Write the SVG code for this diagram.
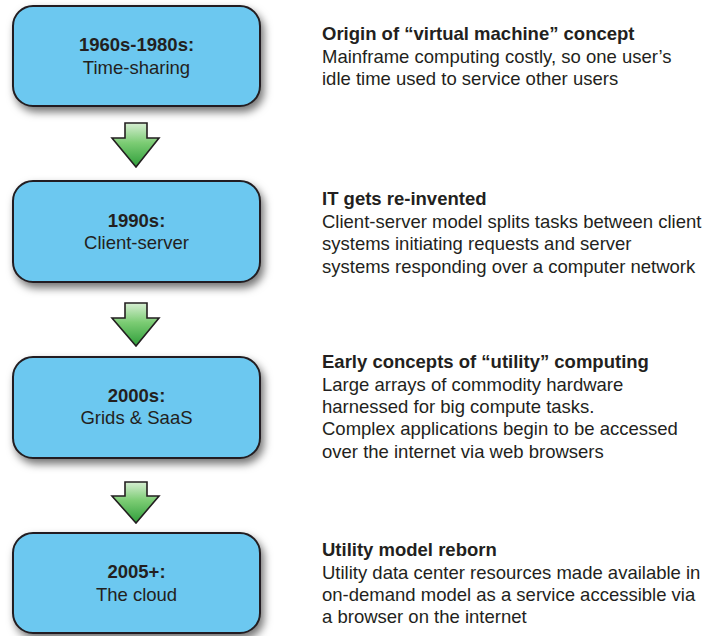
<svg xmlns="http://www.w3.org/2000/svg" width="708" height="636" viewBox="0 0 708 636">
<style>
.box{fill:#6cc8f0;stroke:#231f20;stroke-width:2;filter:url(#sh)}
.bt{font-family:"Liberation Sans",Arial,Helvetica,sans-serif;font-size:18.5px;fill:#231f20;text-anchor:middle}
.b{font-weight:bold}
.dt{font-family:"Liberation Sans",Arial,Helvetica,sans-serif;font-size:18.5px;fill:#231f20}
.arr{fill:url(#g);stroke:#231f20;stroke-width:1.6;stroke-linejoin:miter}
</style>
<defs>
<filter id="sh" x="-10%" y="-20%" width="125%" height="150%">
<feDropShadow dx="3" dy="5" stdDeviation="4" flood-color="#000" flood-opacity="0.55"/>
</filter>
<linearGradient id="g" x1="0" y1="0" x2="0" y2="1">
<stop offset="0" stop-color="#d6eed2"/>
<stop offset="0.45" stop-color="#7ccc74"/>
<stop offset="1" stop-color="#2f9e3a"/>
</linearGradient>
</defs>
<rect width="708" height="636" fill="#fff"/>
<g id="node1">
<rect class="box" x="13" y="6" width="247" height="100" rx="20"/>
<text class="bt b" x="136.5" y="51">1960s-1980s:</text>
<text class="bt" x="136.5" y="74">Time-sharing</text>
<text class="dt b" x="322" y="40">Origin of “virtual machine” concept</text>
<text class="dt" x="322" y="62.5">Mainframe computing costly, so one user’s</text>
<text class="dt" x="322" y="85">idle time used to service other users</text>
</g>
<g id="node2">
<rect class="box" x="13" y="181" width="247" height="101" rx="20"/>
<text class="bt b" x="136.5" y="227">1990s:</text>
<text class="bt" x="136.5" y="249">Client-server</text>
<text class="dt b" x="322" y="205">IT gets re-invented</text>
<text class="dt" x="322" y="227.5">Client-server model splits tasks between client</text>
<text class="dt" x="322" y="250">systems initiating requests and server</text>
<text class="dt" x="322" y="272.5">systems responding over a computer network</text>
</g>
<g id="node3">
<rect class="box" x="13" y="357" width="247" height="101" rx="20"/>
<text class="bt b" x="136.5" y="402">2000s:</text>
<text class="bt" x="136.5" y="424">Grids &amp; SaaS</text>
<text class="dt b" x="322" y="368">Early concepts of “utility” computing</text>
<text class="dt" x="322" y="390.5">Large arrays of commodity hardware</text>
<text class="dt" x="322" y="413">harnessed for big compute tasks.</text>
<text class="dt" x="322" y="435">Complex applications begin to be accessed</text>
<text class="dt" x="322" y="457.5">over the internet via web browsers</text>
</g>
<g id="node4">
<rect class="box" x="13" y="533" width="247" height="100" rx="20"/>
<text class="bt b" x="136.5" y="578">2005+:</text>
<text class="bt" x="136.5" y="601">The cloud</text>
<text class="dt b" x="322" y="556">Utility model reborn</text>
<text class="dt" x="322" y="578.5">Utility data center resources made available in</text>
<text class="dt" x="322" y="601">on-demand model as a service accessible via</text>
<text class="dt" x="322" y="623">a browser on the internet</text>
</g>
<g id="connectors">
<path class="arr" d="M125,123 H147 V138 H159 L136,167 L112,138 H125 Z"/>
<path class="arr" d="M125,303 H147 V318 H159 L136,346 L112,318 H125 Z"/>
<path class="arr" d="M125,482 H147 V496 H159 L136,523 L112,496 H125 Z"/>
</g>
</svg>
